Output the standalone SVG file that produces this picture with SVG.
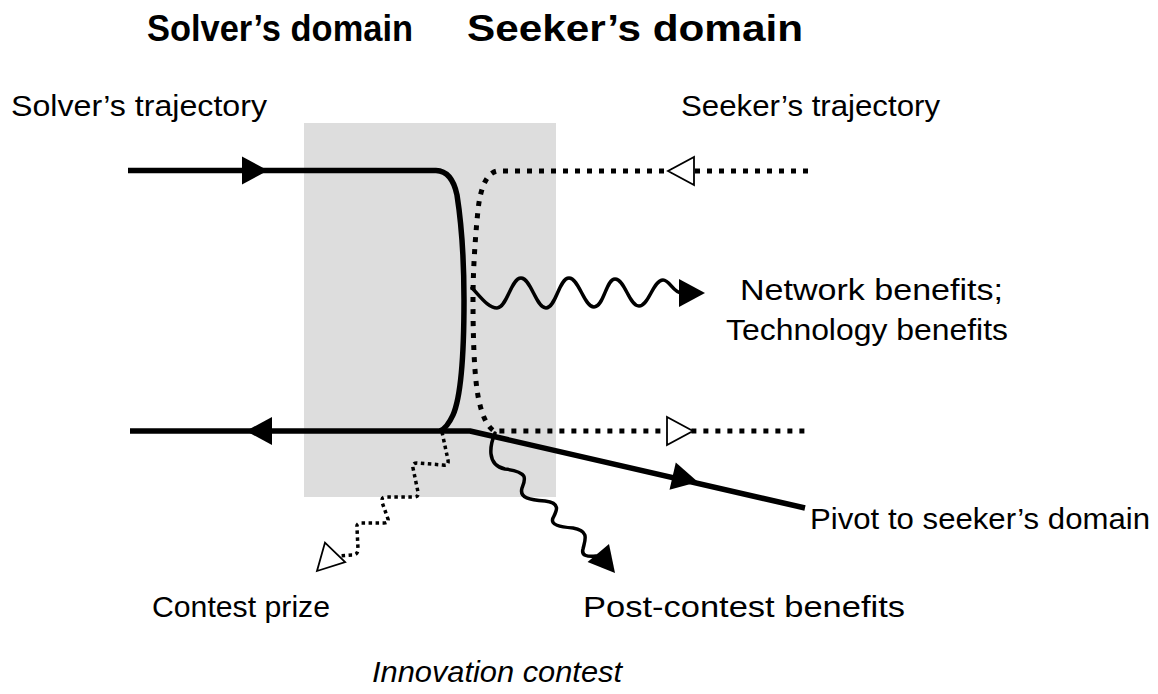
<svg xmlns="http://www.w3.org/2000/svg" xmlns:xlink="http://www.w3.org/1999/xlink" width="1158" height="694" viewBox="0 0 1158 694">
  <style>
    .lbl { font-family: "Liberation Sans", Arial, sans-serif; font-size: 30px; fill: #000; }
    .head { font-family: "Liberation Sans", Arial, sans-serif; font-size: 37px; font-weight: bold; fill: #000; }
    .ital { font-style: italic; }
    .solid { fill: none; stroke: #000; stroke-width: 5.5; stroke-linejoin: round; }
    .dotted { fill: none; stroke: #000; stroke-width: 5; stroke-dasharray: 5 7; }
    .wave { fill: none; stroke: #000; stroke-width: 3.5; stroke-linecap: round; }
    .wave-dot { fill: none; stroke: #000; stroke-width: 3.5; stroke-dasharray: 3.5 3.5; }
    .head-fill { fill: #000; stroke: none; }
    .head-open { fill: #fff; stroke: #000; stroke-width: 1.8; stroke-linejoin: miter; }
  </style>
  <defs>
    <!-- arrowhead with its tip at the origin, pointing along +x -->
    <path id="tri" d="M0,0 L-26,-14 L-26,14 Z"/>
  </defs>

  <!-- contest zone -->
  <rect id="contest-zone" x="304" y="123" width="252" height="374" fill="#dddddd"/>

  <g id="connectors">
    <!-- solver trajectory: in, bend, out and pivot -->
    <path class="solid" d="M128,170.5 H436 Q452,171 457,195 Q464,240 464,300 Q464,390 453,415 Q447,428 440,431"/>
    <path class="solid" d="M130,431 H470 L805,508"/>
    <!-- seeker trajectory -->
    <path class="dotted" d="M808,171 H497 Q482,174 478,210 Q473,260 473,300 Q473,380 480,405 Q485,425 494,431 H808"/>
    <!-- network / technology benefits -->
    <path class="wave" d="M472,288 C480,296 488,308 497,308 C507,308 511,278 521,278 C531,278 536,308 546,308 C556,308 559,278 569,278 C579,278 584,307 594,307 C604,307 606,279 615,279 C625,279 629,306 639,306 C649,306 653,280 663,280 C670,280 673,293 682,293"/>
    <!-- post-contest benefits -->
    <path class="wave" d="M495,433 C490,445 486,465 505,469 C530,472 525,480 522,488 C519,498 530,500 545,501 C562,503 556,512 553,518 C550,525 560,527 573,528 C590,531 585,540 583,549 C581,556 588,557 596,556"/>
    <!-- contest prize -->
    <path class="wave-dot" d="M442,432 L448,460 Q449,466 443,465 L417,463 Q412,463 413,468 L418,492 Q419,497 414,497 L386,497 Q381,497 382,502 L388,519 Q389,523 384,523 L361,523 Q356,523 357,528 L358,549 Q358,555 352,555 L338,556"/>

    <!-- arrowheads -->
    <use xlink:href="#tri" class="head-fill" transform="translate(268,170.5)"/>
    <use xlink:href="#tri" class="head-fill" transform="translate(246,431) rotate(180)"/>
    <use xlink:href="#tri" class="head-fill" transform="translate(705,293)"/>
    <use xlink:href="#tri" class="head-fill" transform="translate(698,482) rotate(13)"/>
    <use xlink:href="#tri" class="head-fill" transform="translate(615,573) rotate(50)"/>
    <use xlink:href="#tri" class="head-open" transform="translate(668,171) rotate(180)"/>
    <use xlink:href="#tri" class="head-open" transform="translate(693,431)"/>
    <use xlink:href="#tri" class="head-open" transform="translate(317,571) rotate(134)"/>
  </g>

  <g id="solver-domain"><text class="head" x="147" y="41" textLength="266" lengthAdjust="spacingAndGlyphs">Solver’s domain</text></g>
  <g id="seeker-domain"><text class="head" x="467" y="41" textLength="336" lengthAdjust="spacingAndGlyphs">Seeker’s domain</text></g>
  <g id="solver-trajectory"><text class="lbl" x="11" y="116" textLength="256" lengthAdjust="spacingAndGlyphs">Solver’s trajectory</text></g>
  <g id="seeker-trajectory"><text class="lbl" x="681" y="116" textLength="259" lengthAdjust="spacingAndGlyphs">Seeker’s trajectory</text></g>
  <g id="benefits">
    <text class="lbl" x="740" y="300" textLength="263" lengthAdjust="spacingAndGlyphs">Network benefits;</text>
    <text class="lbl" x="726" y="340" textLength="282" lengthAdjust="spacingAndGlyphs">Technology benefits</text>
  </g>
  <g id="pivot"><text class="lbl" x="810" y="529" textLength="340" lengthAdjust="spacingAndGlyphs">Pivot to seeker’s domain</text></g>
  <g id="contest-prize"><text class="lbl" x="152" y="617" textLength="178" lengthAdjust="spacingAndGlyphs">Contest prize</text></g>
  <g id="post-contest"><text class="lbl" x="583" y="617" textLength="322" lengthAdjust="spacingAndGlyphs">Post-contest benefits</text></g>
  <g id="innovation-contest"><text class="lbl ital" x="372" y="682" textLength="250" lengthAdjust="spacingAndGlyphs">Innovation contest</text></g>
</svg>
